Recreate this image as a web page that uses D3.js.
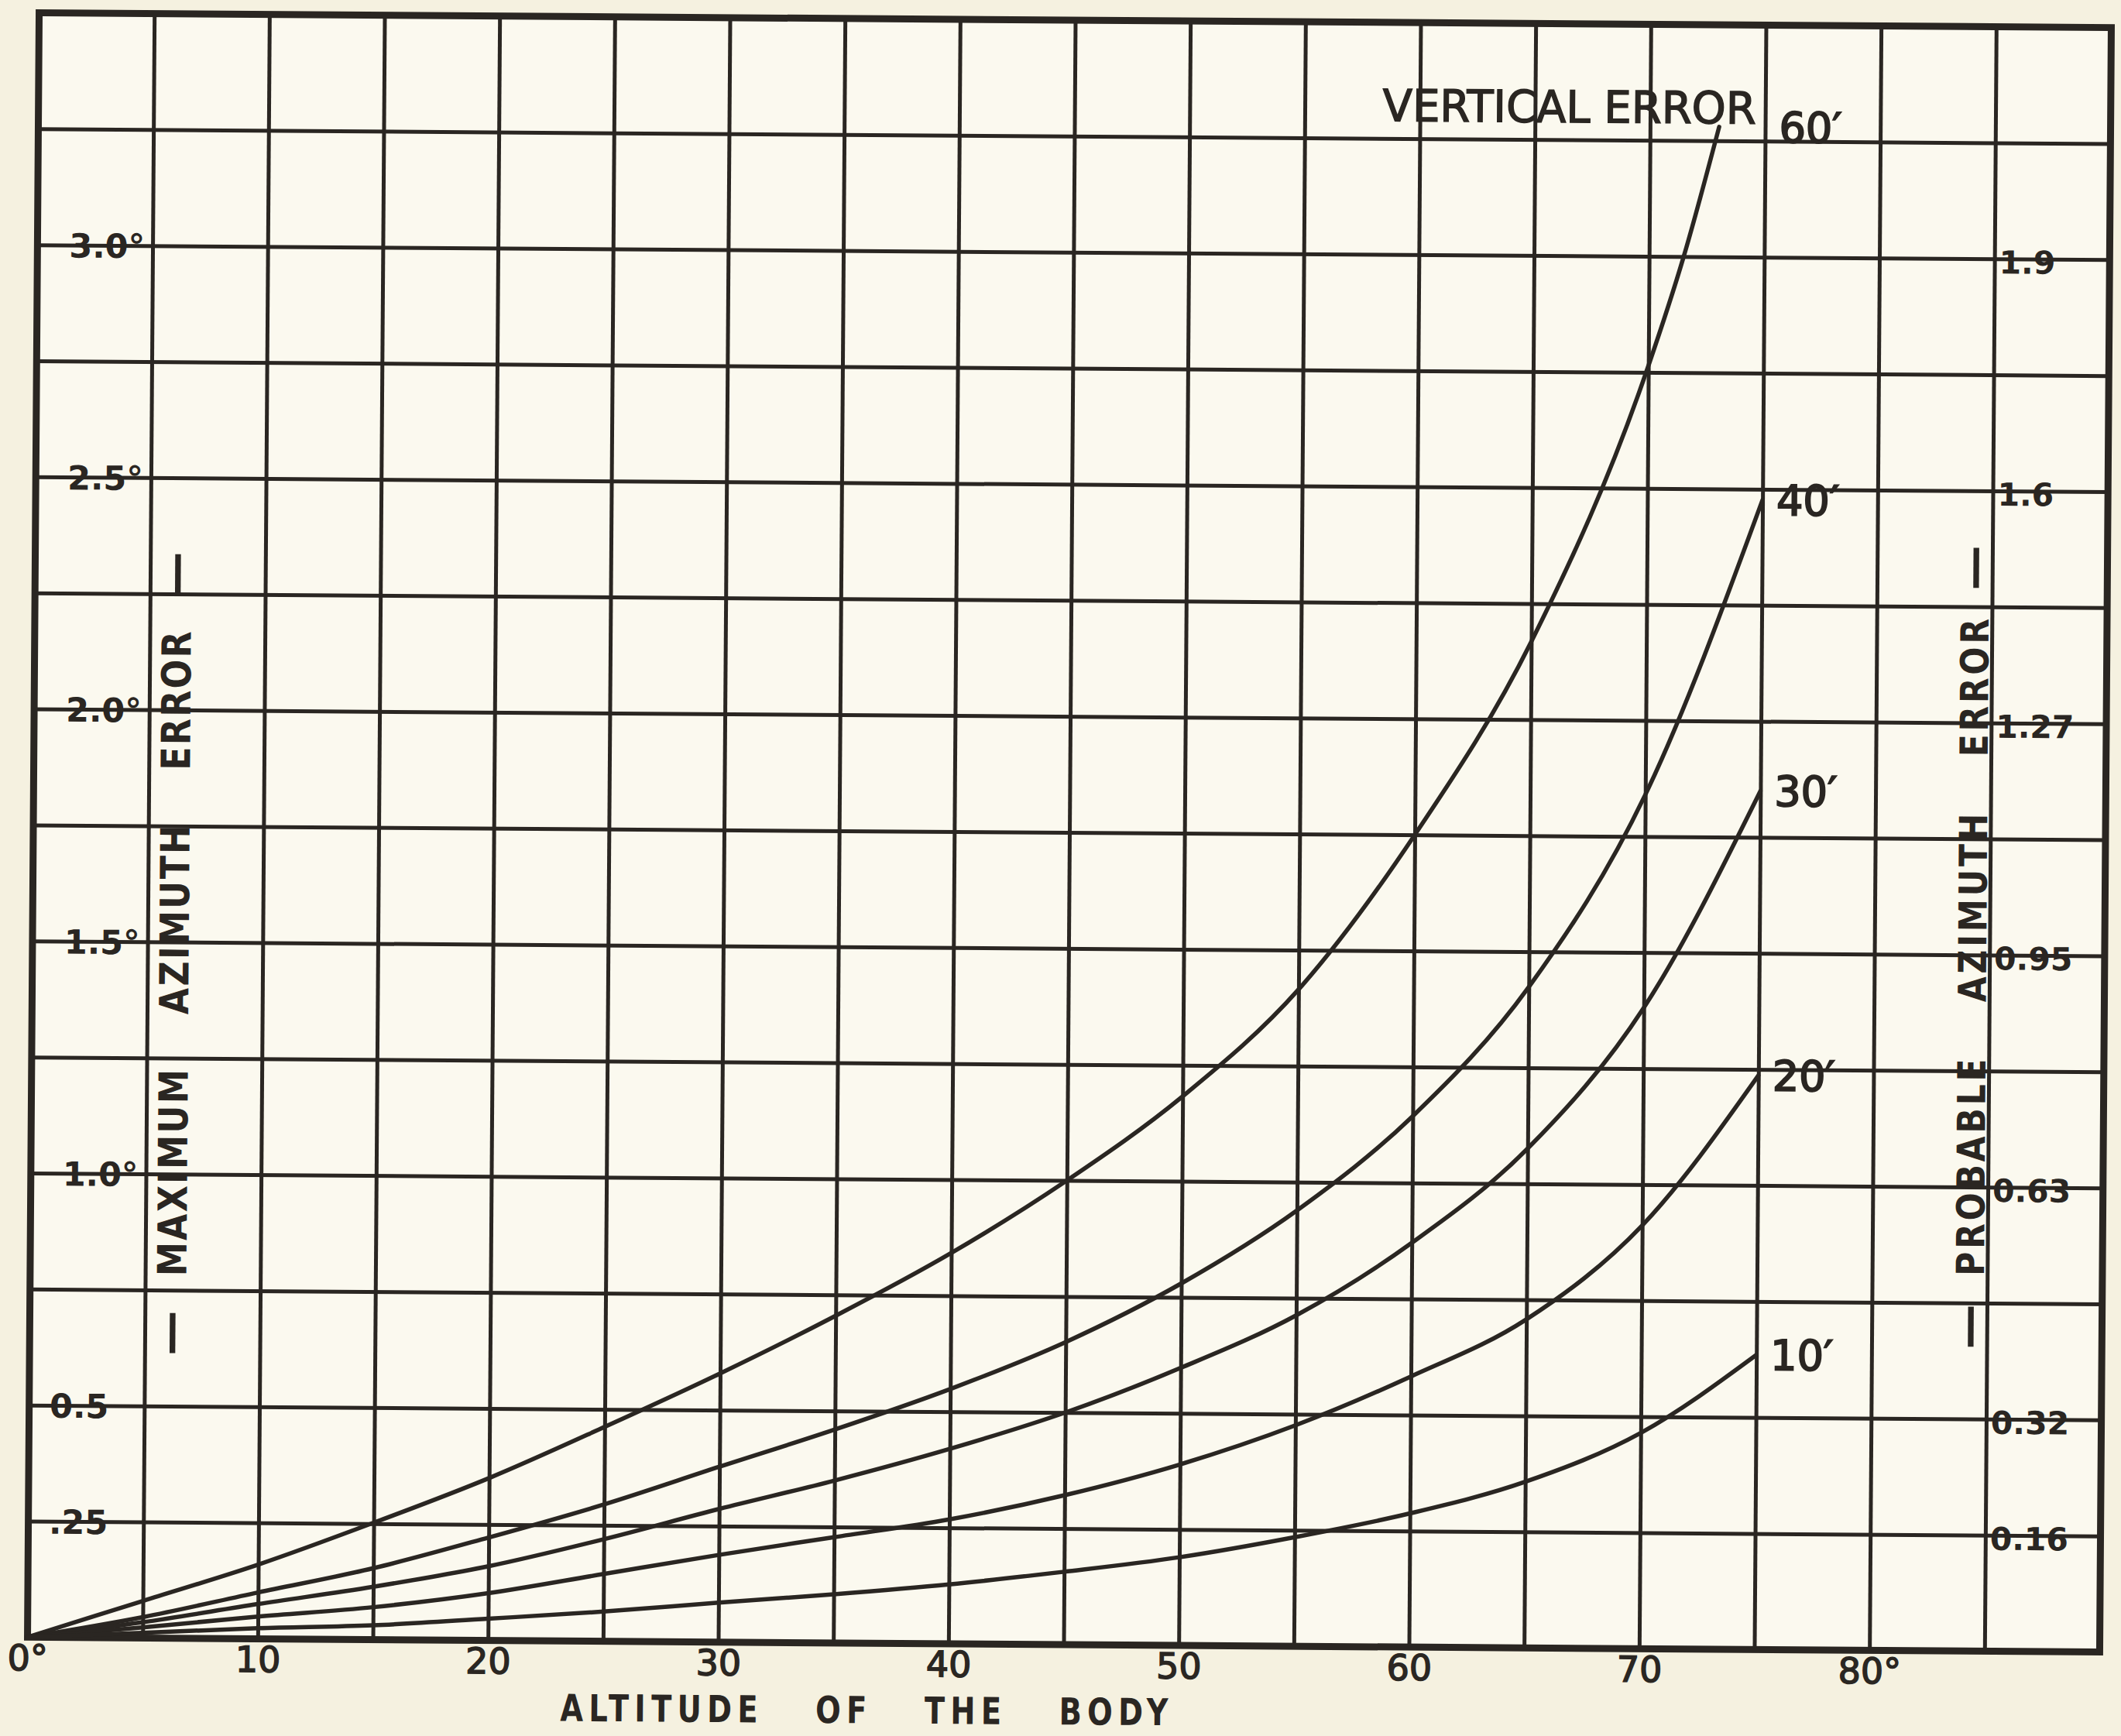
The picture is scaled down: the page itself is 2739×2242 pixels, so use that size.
<!DOCTYPE html>
<html>
<head>
<meta charset="utf-8">
<title>Maximum azimuth error</title>
<script src="https://d3js.org/d3.v7.min.js"></script>
<style>
*{margin:0;padding:0;}
body{background:#f5f1e0;}
svg{display:block;}
</style>
</head>
<body>
<script>

var altitudes   = [0,5,10,15,20,25,30,35,40,45,50,55,60,65,70,75];
var altitudes60 = [0,5,10,15,20,25,30,35,40,45,50,55,60,65,70,71.5,73];

// maximum azimuth error (deg), one list per vertical error
var err60 = [0,0.08,0.16,0.252,0.35,0.462,0.579,0.705,0.842,1.0,1.183,1.415,1.75,2.168,2.764,3.0,3.28];
var err40 = [0,0.045,0.1,0.154,0.222,0.295,0.378,0.46,0.549,0.652,0.78,0.939,1.144,1.424,1.84,2.477];
var err30 = [0,0.034,0.075,0.114,0.16,0.22,0.287,0.35,0.42,0.5,0.598,0.713,0.871,1.076,1.381,1.85];
var err20 = [0,0.023,0.048,0.07,0.102,0.145,0.188,0.228,0.268,0.322,0.39,0.476,0.583,0.708,0.912,1.237];
var err10 = [0,0.011,0.023,0.031,0.047,0.064,0.085,0.105,0.128,0.157,0.19,0.235,0.288,0.358,0.465,0.635];
var curveLabels = ["60′","40′","30′","20′","10′"];

var xTicks = [0,10,20,30,40,50,60,70,80];
var xTickLabels = ["0°","10","20","30","40","50","60","70","80°"];
var leftTicks = [3.0,2.5,2.0,1.5,1.0,0.5,0.25];
var leftTickLabels = ["3.0°","2.5°","2.0°","1.5°","1.0°","0.5",".25"];
var rightTickLabels = ["1.9","1.6","1.27","0.95","0.63","0.32","0.16"];

var W = 2739, H = 2242;
var ink = "#2a2622";
var font = "DejaVu Sans, Verdana, sans-serif";

var svg = d3.select("body").append("svg")
	.attr("width",W)
	.attr("height",H);

svg.append("rect").attr("width",W).attr("height",H).attr("fill","#f5f1e0");

// the scanned sheet sits a little askew
var chart = svg.append("g").attr("transform","rotate(0.41,1381,1075)");

var x = d3.scaleLinear().domain([0,90]).range([43,2719]);
var y = d3.scaleLinear().domain([0,3.5]).range([2124,26]);

chart.append("rect")
	.attr("x",x(0)).attr("y",y(3.5))
	.attr("width",x(90)-x(0)).attr("height",y(0)-y(3.5))
	.attr("fill","#fbf9ef");

// grid, every 5 deg and every 0.25
chart.append("g").attr("class","grid")
	.attr("transform","translate(0,"+y(0)+")")
	.call(d3.axisBottom(x).tickValues(d3.range(5,90,5)).tickSize(-(y(0)-y(3.5))).tickFormat(""))
	.call(g=>g.select(".domain").remove());
chart.append("g").attr("class","grid")
	.attr("transform","translate("+x(0)+",0)")
	.call(d3.axisLeft(y).tickValues(d3.range(1,14).map(k=>k*0.25)).tickSize(-(x(90)-x(0))).tickFormat(""))
	.call(g=>g.select(".domain").remove());
chart.selectAll(".grid line").attr("stroke",ink).attr("stroke-width",5);

chart.append("rect")
	.attr("x",x(0)).attr("y",y(3.5))
	.attr("width",x(90)-x(0)).attr("height",y(0)-y(3.5))
	.attr("fill","none").attr("stroke",ink).attr("stroke-width",9);

// curves
var series = [
	{label:curveLabels[0], alt:altitudes60, val:err60},
	{label:curveLabels[1], alt:altitudes,   val:err40},
	{label:curveLabels[2], alt:altitudes,   val:err30},
	{label:curveLabels[3], alt:altitudes,   val:err20},
	{label:curveLabels[4], alt:altitudes,   val:err10}
];

var line = d3.line()
	.x(d=>x(d[0]))
	.y(d=>y(d[1]))
	.curve(d3.curveMonotoneX);

chart.selectAll(".curve").data(series).enter().append("path")
	.attr("class","curve")
	.attr("d",s=>line(d3.zip(s.alt,s.val)))
	.attr("fill","none")
	.attr("stroke",ink)
	.attr("stroke-width",5.5)
	.attr("stroke-linejoin","round")
	.attr("stroke-linecap","round");

var labelX = x(75)+18;
chart.selectAll(".clabel").data(series).enter().append("text")
	.attr("class","clabel")
	.attr("x",labelX)
	.attr("y",s=>y(s.val[s.val.length-1]))
	.attr("dy","0.36em")
	.attr("font-family",font)
	.attr("font-size",54)
	.attr("fill",ink)
	.attr("stroke",ink).attr("stroke-width",2)
	.text(s=>s.label);

chart.append("text")
	.attr("x",labelX-30)
	.attr("y",y(err60[err60.length-1])-25)
	.attr("dy","0.36em")
	.attr("text-anchor","end")
	.attr("font-family",font)
	.attr("font-size",57)
	.attr("textLength",482)
	.attr("lengthAdjust","spacingAndGlyphs")
	.attr("fill",ink)
	.attr("stroke",ink).attr("stroke-width",1.5)
	.text("VERTICAL ERROR");

// bottom tick labels
var bottom = chart.append("g")
	.attr("transform","translate(0,"+y(0)+")")
	.call(d3.axisBottom(x).tickValues(xTicks).tickFormat((d,i)=>xTickLabels[i]).tickSize(0).tickPadding(10))
	.call(g=>g.select(".domain").remove());
bottom.selectAll("text")
	.attr("font-family",font).attr("font-size",46).attr("fill",ink)
	.attr("stroke",ink).attr("stroke-width",1.5);

// left tick labels sit inside the first column
var left = chart.append("g")
	.attr("transform","translate("+x(5)+",0)")
	.call(d3.axisLeft(y).tickValues(leftTicks).tickFormat((d,i)=>leftTickLabels[i]).tickSize(0).tickPadding(10))
	.call(g=>g.select(".domain").remove());
left.selectAll("text")
	.attr("font-family",font).attr("font-size",43).attr("font-weight","bold").attr("fill",ink)
	.attr("dy","0.36em")
	.attr("dx",function(){ return this.textContent.indexOf("°")<0 ? -36 : 0; });

// right tick labels (probable error)
var right = chart.append("g")
	.attr("transform","translate("+x(85)+",0)")
	.call(d3.axisRight(y).tickValues(leftTicks).tickFormat((d,i)=>rightTickLabels[i]).tickSize(0).tickPadding(6))
	.call(g=>g.select(".domain").remove());
right.selectAll("text")
	.attr("font-family",font).attr("font-size",41).attr("font-weight","bold").attr("fill",ink)
	.attr("dy","0.45em");

// axis titles
function sideTitle(cx,cy,txt,size,len){
	var g = chart.append("g").attr("transform","translate("+cx+","+cy+") rotate(-90)");
	g.append("text")
		.attr("transform","scale(0.85,1)")
		.attr("text-anchor","middle")
		.attr("dy","0.36em")
		.attr("font-family",font).attr("font-weight","bold").attr("font-size",size)
		.attr("word-spacing",60)
		.attr("textLength",len/0.85)
		.attr("lengthAdjust","spacing")
		.attr("fill",ink)
		.text(txt);
	[-490,490].forEach(function(p){
		g.append("text")
			.attr("x",p).attr("dy","0.3em")
			.attr("text-anchor","middle")
			.attr("font-family",font).attr("font-weight","bold").attr("font-size",58)
			.attr("fill",ink)
			.text("—");
	});
}
sideTitle(226,1240,"MAXIMUM AZIMUTH ERROR",52,833);
sideTitle(2548,1215,"PROBABLE AZIMUTH ERROR",50,849);

chart.append("text")
	.attr("transform","translate(1124,2210) scale(0.8,1)")
	.attr("text-anchor","middle")
	.attr("dy","0.36em")
	.attr("font-family",font).attr("font-weight","bold").attr("font-size",48)
	.attr("word-spacing",58)
	.attr("textLength",785/0.8)
	.attr("lengthAdjust","spacing")
	.attr("fill",ink)
	.text("ALTITUDE OF THE BODY");

</script>
</body>
</html>
